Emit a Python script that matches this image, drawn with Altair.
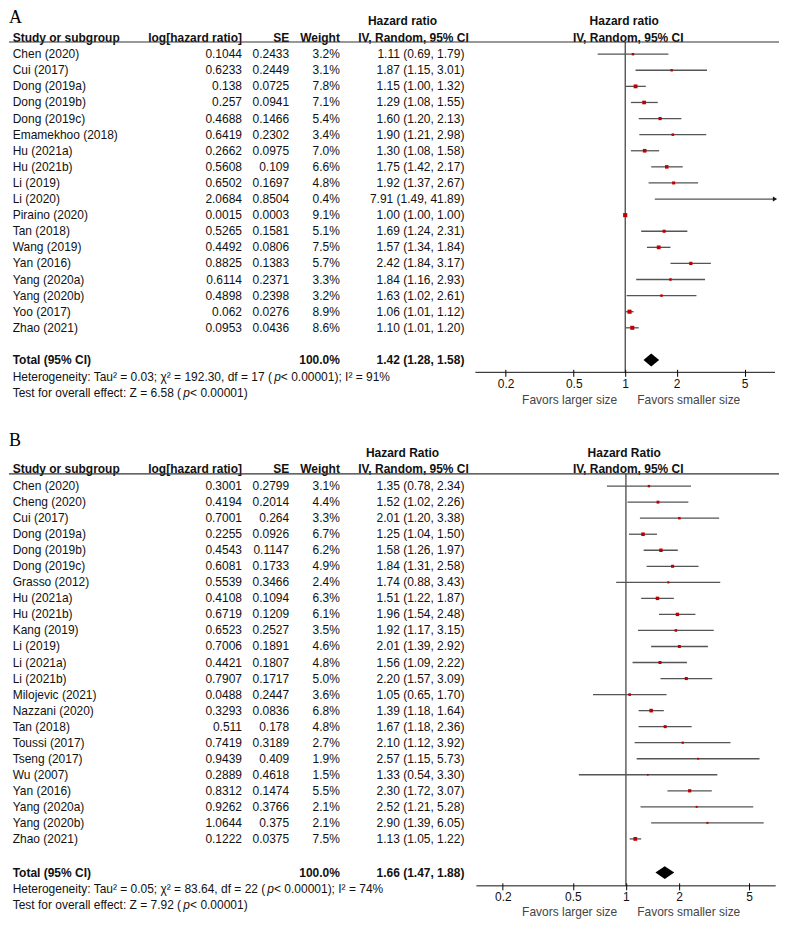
import altair as alt
import pandas as pd

FONT = "Liberation Sans"
RED = "#c00000"

# ---------------- Panel A data ----------------
studiesA = ["Chen (2020)", "Cui (2017)", "Dong (2019a)", "Dong (2019b)", "Dong (2019c)",
            "Emamekhoo (2018)", "Hu (2021a)", "Hu (2021b)", "Li (2019)", "Li (2020)",
            "Piraino (2020)", "Tan (2018)", "Wang (2019)", "Yan (2016)", "Yang (2020a)",
            "Yang (2020b)", "Yoo (2017)", "Zhao (2021)"]
logA = ["0.1044", "0.6233", "0.138", "0.257", "0.4688", "0.6419", "0.2662", "0.5608", "0.6502",
        "2.0684", "0.0015", "0.5265", "0.4492", "0.8825", "0.6114", "0.4898", "0.062", "0.0953"]
seA = ["0.2433", "0.2449", "0.0725", "0.0941", "0.1466", "0.2302", "0.0975", "0.109", "0.1697",
       "0.8504", "0.0003", "0.1581", "0.0806", "0.1383", "0.2371", "0.2398", "0.0276", "0.0436"]
wA = [3.2, 3.1, 7.8, 7.1, 5.4, 3.4, 7.0, 6.6, 4.8, 0.4, 9.1, 5.1, 7.5, 5.7, 3.3, 3.2, 8.9, 8.6]
hrA = [1.11, 1.87, 1.15, 1.29, 1.60, 1.90, 1.30, 1.75, 1.92, 7.91, 1.00, 1.69, 1.57, 2.42, 1.84, 1.63, 1.06, 1.10]
loA = [0.69, 1.15, 1.00, 1.08, 1.20, 1.21, 1.08, 1.42, 1.37, 1.49, 1.00, 1.24, 1.34, 1.84, 1.16, 1.02, 1.01, 1.01]
hiA = [1.79, 3.01, 1.32, 1.55, 2.13, 2.98, 1.58, 2.17, 2.67, 41.89, 1.00, 2.31, 1.84, 3.17, 2.93, 2.61, 1.12, 1.20]
totalA = (1.42, 1.28, 1.58)
hetA = ["Heterogeneity: Tau² = 0.03; χ² = 192.30, df = 17 (", " < 0.00001); I² = 91%"]
testA = ["Test for overall effect: Z = 6.58 (", " < 0.00001)"]

# ---------------- Panel B data ----------------
studiesB = ["Chen (2020)", "Cheng (2020)", "Cui (2017)", "Dong (2019a)", "Dong (2019b)", "Dong (2019c)",
            "Grasso (2012)", "Hu (2021a)", "Hu (2021b)", "Kang (2019)", "Li (2019)", "Li (2021a)",
            "Li (2021b)", "Milojevic (2021)", "Nazzani (2020)", "Tan (2018)", "Toussi (2017)",
            "Tseng (2017)", "Wu (2007)", "Yan (2016)", "Yang (2020a)", "Yang (2020b)", "Zhao (2021)"]
logB = ["0.3001", "0.4194", "0.7001", "0.2255", "0.4543", "0.6081", "0.5539", "0.4108", "0.6719",
        "0.6523", "0.7006", "0.4421", "0.7907", "0.0488", "0.3293", "0.511", "0.7419", "0.9439",
        "0.2889", "0.8312", "0.9262", "1.0644", "0.1222"]
seB = ["0.2799", "0.2014", "0.264", "0.0926", "0.1147", "0.1733", "0.3466", "0.1094", "0.1209",
       "0.2527", "0.1891", "0.1807", "0.1717", "0.2447", "0.0836", "0.178", "0.3189", "0.409",
       "0.4618", "0.1474", "0.3766", "0.375", "0.0375"]
wB = [3.1, 4.4, 3.3, 6.7, 6.2, 4.9, 2.4, 6.3, 6.1, 3.5, 4.6, 4.8, 5.0, 3.6, 6.8, 4.8, 2.7, 1.9, 1.5, 5.5, 2.1, 2.1, 7.5]
hrB = [1.35, 1.52, 2.01, 1.25, 1.58, 1.84, 1.74, 1.51, 1.96, 1.92, 2.01, 1.56, 2.20, 1.05, 1.39, 1.67,
       2.10, 2.57, 1.33, 2.30, 2.52, 2.90, 1.13]
loB = [0.78, 1.02, 1.20, 1.04, 1.26, 1.31, 0.88, 1.22, 1.54, 1.17, 1.39, 1.09, 1.57, 0.65, 1.18, 1.18,
       1.12, 1.15, 0.54, 1.72, 1.21, 1.39, 1.05]
hiB = [2.34, 2.26, 3.38, 1.50, 1.97, 2.58, 3.43, 1.87, 2.48, 3.15, 2.92, 2.22, 3.09, 1.70, 1.64, 2.36,
       3.92, 5.73, 3.30, 3.07, 5.28, 6.05, 1.22]
totalB = (1.66, 1.47, 1.88)
hetB = ["Heterogeneity: Tau² = 0.05; χ² = 83.64, df = 22 (", " < 0.00001); I² = 74%"]
testB = ["Test for overall effect: Z = 7.92 (", " < 0.00001)"]

tick_values = [0.2, 0.5, 1, 2, 5]

ONE = pd.DataFrame({"k": [0]})


def panel(letter, hr_title, studies, logs, ses, ws, hrs, los, his, total, het, test, L):
    n = len(studies)
    rows = list(range(1, n + 1))
    df = pd.DataFrame({
        "row": rows, "study": studies, "log": logs, "se": ses,
        "w": ws, "wlab": [f"{w:.1f}%" for w in ws],
        "hr": hrs, "lo": los, "hi": his,
        "ci": [f"{h:.2f} ({a:.2f}, {b:.2f})" for h, a, b in zip(hrs, los, his)],
    })
    ys = alt.Scale(domain=L["ydom"], range=L["yrange"], nice=False, zero=False)
    xs = alt.Scale(type="log", domain=L["xdom"], range=L["xrange"], clamp=True, nice=False)
    xaxis = alt.Axis(values=tick_values, format="~g", title=None, grid=False, domain=False,
                     tickSize=7, offset=-3, tickColor="black", tickWidth=1,
                     labelFont=FONT, labelFontSize=12, labelColor="#111", labelPadding=2)
    Y = alt.Y("row:Q", scale=ys, axis=None)

    def X(f):
        return alt.X(f, type="quantitative", scale=xs, axis=xaxis)

    def tl(rws, texts, x, align="left", bold=False, italic=False):
        d = pd.DataFrame({"row": rws, "t": texts})
        return alt.Chart(d).mark_text(
            align=align, baseline="middle", font=FONT, fontSize=12,
            fontWeight="bold" if bold else "normal",
            fontStyle="italic" if italic else "normal", color="#111"
        ).encode(x=alt.value(x), y=Y, text="t:N")

    def tcol(field, x, align):
        return alt.Chart(df).mark_text(
            align=align, baseline="middle", font=FONT, fontSize=12, color="#111"
        ).encode(x=alt.value(x), y=Y, text=f"{field}:N")

    C = L["cols"]
    layers = []
    hr1, hr0 = L["hrow1"], L["hrow0"]
    layers += [
        tl([hr0], ["Study or subgroup"], C["study"], "left", True),
        tl([hr0], ["log[hazard ratio]"], C["log"], "right", True),
        tl([hr0], ["SE"], C["se"], "right", True),
        tl([hr0], ["Weight"], C["w"], "right", True),
        tl([hr1], [hr_title], C["h1"], "center", True),
        tl([hr0], ["IV, Random, 95% CI"], C["h2"], "center", True),
        tl([hr1], [hr_title], C["f1"], "center", True),
        tl([hr0], ["IV, Random, 95% CI"], C["f2"], "center", True),
    ]
    layers.append(alt.Chart(ONE).mark_rule(color="#333", strokeWidth=1.2).encode(
        x=alt.value(0), x2=alt.value(771), y=alt.value(L["uline"])))
    layers += [tcol("study", C["study"], "left"), tcol("log", C["log"], "right"),
               tcol("se", C["se"], "right"), tcol("wlab", C["w"], "right"),
               tcol("ci", C["ci"], "right")]
    tr = L["trow"]
    layers += [
        tl([tr], ["Total (95% CI)"], C["study"], "left", True),
        tl([tr], ["100.0%"], C["w"], "right", True),
        tl([tr], [f"{total[0]:.2f} ({total[1]:.2f}, {total[2]:.2f})"], C["ci"], "right", True),
    ]
    hp, tp = L["hetp"], L["testp"]
    layers += [
        tl([L["hrow"]], [het[0]], C["study"]), tl([L["hrow"]], ["p"], hp, italic=True),
        tl([L["hrow"]], [het[1]], hp + 6.7),
        tl([L["trow2"]], [test[0]], C["study"]), tl([L["trow2"]], ["p"], tp, italic=True),
        tl([L["trow2"]], [test[1]], tp + 6.7),
    ]
    layers.append(alt.Chart(ONE).mark_rule(color="#111", strokeWidth=1).encode(
        x=alt.datum(1), y=alt.value(L["uline"]), y2=alt.value(L["axy"])))
    layers.append(alt.Chart(ONE).mark_rule(color="#111", strokeWidth=1).encode(
        x=alt.datum(L["xdom"][0]), x2=alt.datum(L["xdom"][1]), y=alt.value(L["axy"])))
    layers.append(alt.Chart(df).mark_rule(color="#555", strokeWidth=1.3).encode(
        x=X("lo"), x2="hi", y=Y))
    arr = df[df["hi"] > L["xdom"][1]]
    if len(arr):
        layers.append(alt.Chart(arr).mark_point(shape="triangle-right", filled=True, size=24,
                                                color="#111", opacity=1).encode(
            x=X("hi"), y=Y))
    layers.append(alt.Chart(df).mark_square(color=RED, opacity=1).encode(
        x=X("hr"), y=Y,
        size=alt.Size("w:Q", scale=alt.Scale(domain=[0, 10], range=[0, 19]), legend=None)))
    dh = L["dh"]
    dd = pd.DataFrame({"x": [total[1], total[0], total[2]],
                       "y1": [tr, tr - dh, tr], "y2": [tr, tr + dh, tr]})
    layers.append(alt.Chart(dd).mark_area(color="black", orient="vertical", opacity=1).encode(
        x=X("x"), y=alt.Y("y1:Q", scale=ys, axis=None), y2="y2"))
    layers += [
        alt.Chart(ONE).mark_text(align="right", baseline="middle", font=FONT, fontSize=12,
                                 color="#444").encode(
            x=alt.value(C["fav"] - 10), y=alt.value(L["favy"]), text=alt.value("Favors larger size")),
        alt.Chart(ONE).mark_text(align="left", baseline="middle", font=FONT, fontSize=12,
                                 color="#444").encode(
            x=alt.value(C["fav"] + 10), y=alt.value(L["favy"]), text=alt.value("Favors smaller size")),
    ]
    layers.append(alt.Chart(ONE).mark_text(align="left", baseline=L["letb"], font="Liberation Serif",
                                           fontSize=18, color="black").encode(
        x=alt.value(0), y=alt.value(L["lety"]), text=alt.value(letter)))

    return alt.layer(*layers).properties(width=772, height=L["axy"])


cols = {"study": 3.7, "log": 233.3, "se": 280.5, "w": 331.3, "ci": 456,
        "h1": 394, "h2": 405, "f1": 616, "f2": 620, "fav": 619}

LA = {"ydom": [0, 22], "yrange": [29.53, 384.1],
      "xdom": [0.133, 7.52], "xrange": [467, 767],
      "cols": cols, "hrow1": -1.05, "hrow0": 0, "uline": 33.44, "trow": 20,
      "hrow": 21.07, "trow2": 22.06, "hetp": 265.5, "testp": 174.6,
      "axy": 364.2, "dh": 0.4, "favy": 392.0, "lety": 0, "letb": "top"}
LB = {"ydom": [0, 27], "yrange": [97.09, 530.63],
      "xdom": [0.1416, 7.08], "xrange": [468, 767.7],
      "cols": cols, "hrow1": -1.04, "hrow0": -0.05, "uline": 100.94, "trow": 25.1,
      "hrow": 26.15, "trow2": 27.15, "hetp": 258.7, "testp": 174.6,
      "axy": 513.4, "dh": 0.4, "favy": 540.0, "lety": 73.45, "letb": "alphabetic"}

chartA = panel("A", "Hazard ratio", studiesA, logA, seA, wA, hrA, loA, hiA, totalA, hetA, testA, LA)
chartB = panel("B", "Hazard Ratio", studiesB, logB, seB, wB, hrB, loB, hiB, totalB, hetB, testB, LB)

chart = alt.vconcat(chartA, chartB, spacing=0, bounds="flush").properties(
    padding=0, background="white"
).configure_view(strokeWidth=0)

chart.save("out.html", embed_options={"renderer": "svg", "actions": False})
